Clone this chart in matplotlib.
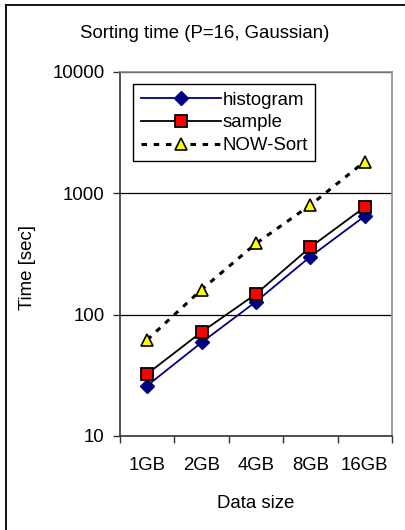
import numpy as np
import matplotlib.pyplot as plt
from matplotlib.lines import Line2D

plt.rcParams['font.family'] = ['Liberation Sans', 'DejaVu Sans']
plt.rcParams['font.size'] = 13.4

# Sorting times in seconds for each data size
sizes = ['1GB', '2GB', '4GB', '8GB', '16GB']
histogram = [26, 59, 128, 301, 649]
sample = [32.5, 72, 148, 360, 771]
now_sort = [62, 161, 386, 800, 1828]

x = np.arange(len(sizes))

fig = plt.figure(figsize=(4.05, 5.3), dpi=100)
ax = fig.add_axes([0.2963, 0.1774, 0.6716, 0.6868])

ax.plot(x, histogram, color='#000080', lw=1.3, marker='D', ms=7.5,
        mfc='#000080', mec='#000080', label='histogram')
ax.plot(x, sample, color='black', lw=1.3, marker='s', ms=9,
        mfc='#ff0000', mec='black', mew=1.3, label='sample')
ax.plot(x, now_sort, color='black', lw=2.2, ls=(0, (1.8, 2.2)), marker='^', ms=9,
        mfc='#ffff00', mec='black', mew=1.2, label='NOW-Sort')

ax.set_yscale('log')
ax.set_ylim(10, 10000)
ax.set_yticks([10, 100, 1000, 10000])
ax.set_yticklabels(['10', '100', '1000', '10000'])
ax.yaxis.set_minor_locator(plt.NullLocator())
ax.grid(axis='y', color='black', lw=0.9)
ax.set_axisbelow(True)

# category boundaries get the tick marks, labels sit in the middle
ax.set_xlim(-0.5, len(sizes) - 0.5)
ax.set_xticks(np.arange(len(sizes) + 1) - 0.5)
ax.set_xticklabels([])
ax.set_xticks(x, minor=True)
ax.set_xticklabels(sizes, minor=True)
ax.tick_params(axis='x', which='minor', length=0, pad=15)
ax.tick_params(axis='x', which='major', direction='out', length=5, width=1, color='#333333')
ax.tick_params(axis='y', direction='out', length=5, width=1, color='#333333', pad=6)

for side in ('top', 'right'):
    ax.spines[side].set_color('#8c8c8c')
    ax.spines[side].set_linewidth(1.2)
for side in ('left', 'bottom'):
    ax.spines[side].set_color('#333333')
    ax.spines[side].set_linewidth(1.2)

ax.set_xlabel('Data size', labelpad=15)
fig.text(0.069, 0.496, 'Time [sec]', rotation=90, ha='center', va='center')
fig.text(0.506, 0.937, 'Sorting time (P=16, Gaussian)', ha='center', va='center')

leg = ax.legend(loc='upper left', bbox_to_anchor=(0.048, 0.966), handlelength=4.3,
                handletextpad=0.1, borderpad=0.4, labelspacing=0.3,
                fancybox=False, framealpha=1, borderaxespad=0)
leg.get_frame().set_edgecolor('black')
leg.get_frame().set_linewidth(1.0)

# outer chart border
fig.add_artist(Line2D([0.0148, 0.0148], [0, 0.9906], color='black', lw=1.3))
fig.add_artist(Line2D([0.0148, 1], [0.9906, 0.9906], color='black', lw=1.3))

fig.savefig('out.png', dpi=100)
